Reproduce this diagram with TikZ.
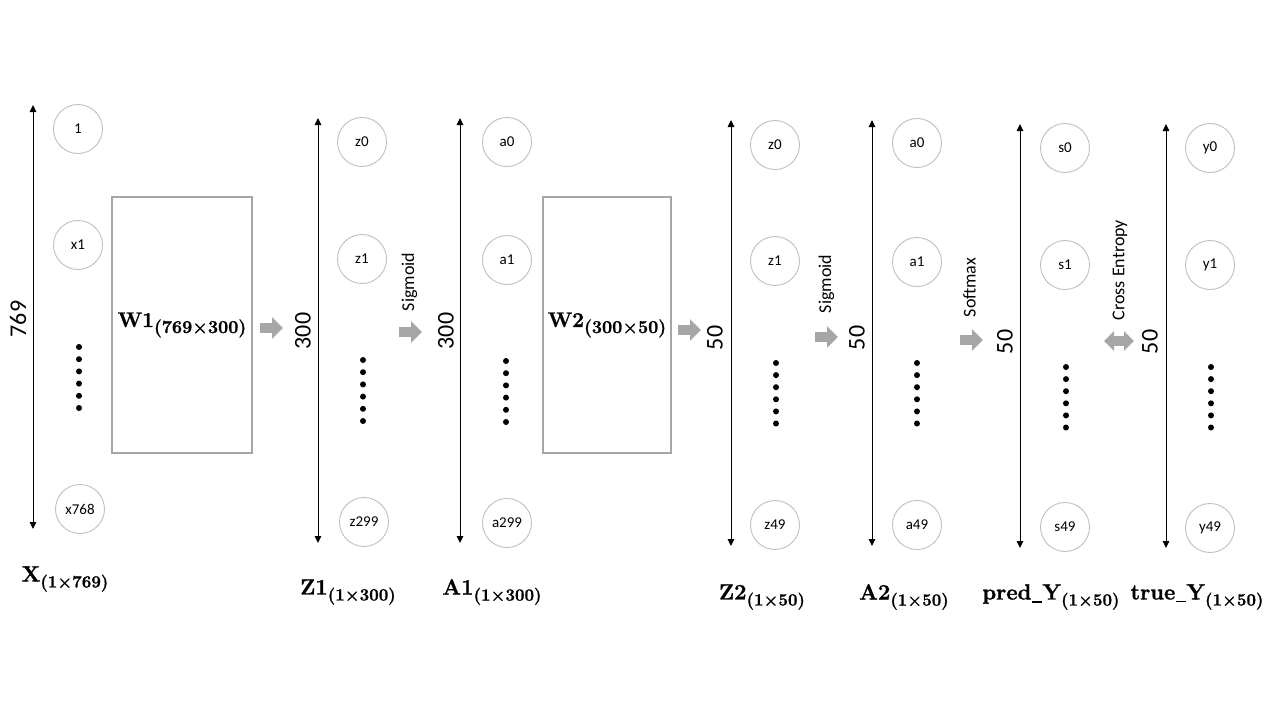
\documentclass[tikz,border=0pt]{standalone}
\usepackage{fontspec}
\newfontfamily\carl{Carlito}
\newfontfamily\labfont{Latin Modern Roman}[BoldFeatures={FakeBold=1.2}]
\usetikzlibrary{arrows.meta}
\definecolor{agray}{HTML}{A6A6A6}
\definecolor{cgray}{HTML}{BFBFBF}
\newcommand{\mlab}[3][17]{{\labfont\bfseries #2\raisebox{-6pt}{\fontsize{#1}{#1}\selectfont #3}}}
\newcommand{\usc}{\kern0.5pt\rule[-3pt]{10pt}{1.6pt}\kern0.5pt}
\begin{document}
\begin{tikzpicture}[x=1pt,y=-1pt,
  neuron/.style={circle,draw=cgray,line width=0.9pt,minimum size=49pt,inner sep=0pt,font=\carl\fontsize{15}{15}\selectfont},
  axis/.style={line width=1pt,{Triangle[length=7pt,width=6.5pt]}-{Triangle[length=7pt,width=6.5pt]}},
  dimlab/.style={rotate=90,inner sep=0pt,font=\carl\fontsize{24}{24}\selectfont},
  actlab/.style={rotate=90,inner sep=0pt,font=\carl\fontsize{18}{18}\selectfont},
  wbox/.style={draw=agray,line width=1.2pt,minimum height=256pt,inner sep=0pt,font=\fontsize{21}{21}\selectfont},
  varlab/.style={inner sep=0pt,font=\fontsize{22}{22}\selectfont},
  blockarr/.style={draw=agray,line width=10pt,-{Triangle[length=11pt,width=21pt]}},
  dblarr/.style={draw=agray,line width=10pt,{Triangle[length=10pt,width=19pt]}-{Triangle[length=10pt,width=19pt]}},
  dot/.style={circle,fill=black,inner sep=0pt,minimum size=6pt}
]
\useasboundingbox (0,0) rectangle (1280,720);

% ---------- column X ----------
\coordinate (xt) at (33,105); \coordinate (xb) at (33,529);
\draw[axis] (xt) -- (xb);
\node[dimlab] (xdim) at (18,319) {769};
\node[neuron] (x0) at (78,129) {1};
\node[neuron] (x1) at (78,245) {x1};
\node[neuron] (xn) at (80,509) {x768};
\foreach \i in {0,...,5} \node[dot] (xd\i) at (79,347+12.2*\i) {};
\node[varlab] (xl) at (65,579) {\mlab{X}{(1×769)}};

% ---------- W1 ----------
\node[wbox,minimum width=140pt] (w1) at (182,325) {\mlab[18]{W1}{(769×300)}};
\coordinate (a1s) at (260,328); \coordinate (a1e) at (283,328);
\draw[blockarr] (a1s) -- (a1e);

% ---------- column Z1 ----------
\coordinate (z1t) at (318,118); \coordinate (z1b) at (318,543);
\draw[axis] (z1t) -- (z1b);
\node[dimlab] (z1dim) at (303,331) {300};
\node[neuron] (z10) at (362,142) {z0};
\node[neuron] (z11) at (362,259) {z1};
\node[neuron] (z1n) at (364,522) {z299};
\foreach \i in {0,...,5} \node[dot] (z1d\i) at (363,360+12.2*\i) {};
\node[varlab] (z1l) at (348,592) {\mlab{Z1}{(1×300)}};

% sigmoid 1
\node[actlab] (sig1) at (409.5,282) {Sigmoid};
\coordinate (a2s) at (399,332); \coordinate (a2e) at (422,332);
\draw[blockarr] (a2s) -- (a2e);

% ---------- column A1 ----------
\coordinate (a1t) at (460,118); \coordinate (a1b) at (460,543);
\draw[axis] (a1t) -- (a1b);
\node[dimlab] (a1dim) at (446,331) {300};
\node[neuron] (a10) at (507,142) {a0};
\node[neuron] (a11) at (507,260) {a1};
\node[neuron] (a1n) at (507,523) {a299};
\foreach \i in {0,...,5} \node[dot] (a1d\i) at (506,361+12.2*\i) {};
\node[varlab] (a1l) at (492,592) {\mlab{A1}{(1×300)}};

% ---------- W2 ----------
\node[wbox,minimum width=128pt] (w2) at (607,325) {\mlab[18]{W2}{(300×50)}};
\coordinate (a3s) at (678,330); \coordinate (a3e) at (701,330);
\draw[blockarr] (a3s) -- (a3e);

% ---------- column Z2 ----------
\coordinate (z2t) at (731,120); \coordinate (z2b) at (731,546);
\draw[axis] (z2t) -- (z2b);
\node[dimlab] (z2dim) at (715,338) {50};
\node[neuron] (z20) at (775,145) {z0};
\node[neuron] (z21) at (775,261) {z1};
\node[neuron] (z2n) at (775,525) {z49};
\foreach \i in {0,...,5} \node[dot] (z2d\i) at (776,363+12.1*\i) {};
\node[varlab] (z2l) at (762,597) {\mlab{Z2}{(1×50)}};

% sigmoid 2
\node[actlab] (sig2) at (826.5,284) {Sigmoid};
\coordinate (a4s) at (815,337); \coordinate (a4e) at (838,337);
\draw[blockarr] (a4s) -- (a4e);

% ---------- column A2 ----------
\coordinate (a2t) at (872,120); \coordinate (a2b) at (872,546);
\draw[axis] (a2t) -- (a2b);
\node[dimlab] (a2dim) at (857,338) {50};
\node[neuron] (a20) at (917,143) {a0};
\node[neuron] (a21) at (917,262) {a1};
\node[neuron] (a2n) at (917,525) {a49};
\foreach \i in {0,...,5} \node[dot] (a2d\i) at (917,363+12.1*\i) {};
\node[varlab] (a2l) at (904,597) {\mlab{A2}{(1×50)}};

% softmax
\node[actlab] (smax) at (969.5,287.5) {Softmax};
\coordinate (a5s) at (960,340); \coordinate (a5e) at (983,340);
\draw[blockarr] (a5s) -- (a5e);

% ---------- column pred_Y ----------
\coordinate (pt) at (1020,124); \coordinate (pb) at (1020,548);
\draw[axis] (pt) -- (pb);
\node[dimlab] (pdim) at (1005,342) {50};
\node[neuron] (p0) at (1065,148) {s0};
\node[neuron] (p1) at (1065,265) {s1};
\node[neuron] (pn) at (1065,527) {s49};
\foreach \i in {0,...,5} \node[dot] (pd\i) at (1066,367+12.1*\i) {};
\node[varlab] (pl) at (1051,597) {\mlab{pred\usc Y}{(1×50)}};

% cross entropy
\node[actlab] (ce) at (1120,270) {Cross Entropy};
\coordinate (a6s) at (1104,341); \coordinate (a6e) at (1134,341);
\draw[dblarr] (a6s) -- (a6e);

% ---------- column true_Y ----------
\coordinate (tt) at (1166,124); \coordinate (tb) at (1166,548);
\draw[axis] (tt) -- (tb);
\node[dimlab] (tdim) at (1150,342) {50};
\node[neuron] (t0) at (1210,148) {y0};
\node[neuron] (t1) at (1210,265) {y1};
\node[neuron] (tn) at (1210,528) {y49};
\foreach \i in {0,...,5} \node[dot] (td\i) at (1211,367+12.1*\i) {};
\node[varlab] (tl) at (1197,597) {\mlab{true\usc Y}{(1×50)}};
\end{tikzpicture}
\end{document}
